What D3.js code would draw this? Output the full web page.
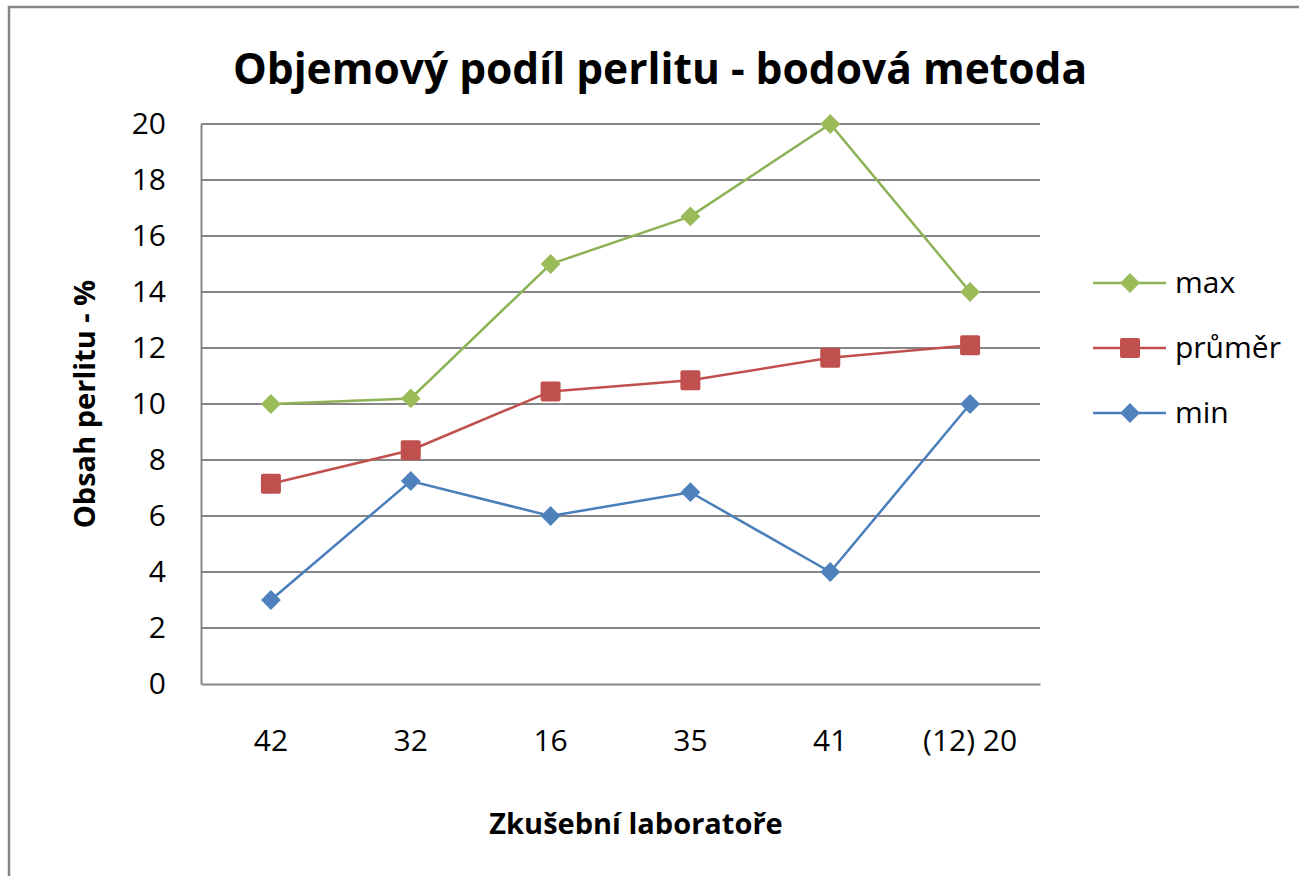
<!DOCTYPE html>
<html>
<head>
<meta charset="utf-8">
<script src="https://cdn.jsdelivr.net/npm/d3@7"></script>
<style>
    body { margin: 0; background: #fff; }
    text { font-family: "Open Sans", "Liberation Sans", sans-serif; fill: #000; }
</style>
</head>
<body>
<div id="chart"></div>
<script>
// data
const labs = ["42", "32", "16", "35", "41", "(12) 20"];
const maxVals = [10, 10.2, 15, 16.7, 20, 14];
const meanVals = [7.15, 8.35, 10.45, 10.85, 11.65, 12.1];
const minVals = [3, 7.25, 6, 6.85, 4, 10];
const yTicks = [0, 2, 4, 6, 8, 10, 12, 14, 16, 18, 20];

const series = [
    {name: "max", values: maxVals, color: "#9BBB59", stroke: "#8DB255", shape: "diamond"},
    {name: "průměr", values: meanVals, color: "#C0504D", stroke: "#C0504D", shape: "square"},
    {name: "min", values: minVals, color: "#4F81BD", stroke: "#4A7EBB", shape: "diamond"}
];

const W = 1299, H = 876;
const margin = {top: 124, left: 201, right: 259, bottom: 192};
const w = W - margin.left - margin.right;
const h = H - margin.top - margin.bottom;

const svg = d3.select("#chart").append("svg")
    .attr("width", W)
    .attr("height", H);

// outer frame
svg.append("rect")
    .attr("x", 9).attr("y", 7)
    .attr("width", W).attr("height", H)
    .attr("fill", "#fff")
    .attr("stroke", "#868686")
    .attr("stroke-width", 2.5);

svg.append("text")
    .attr("x", 660).attr("y", 84)
    .attr("text-anchor", "middle")
    .style("font-size", "42.5px")
    .style("font-weight", "bold")
    .text("Objemový podíl perlitu - bodová metoda");

const g = svg.append("g")
    .attr("transform", `translate(${margin.left},${margin.top})`);

let x = d3.scaleBand().domain(labs).range([0, w]);
let y = d3.scaleLinear().domain([0, 20]).range([h, 0]);

// grid
g.selectAll(".grid").data(yTicks.slice(1)).enter()
    .append("line")
    .attr("x1", 0).attr("x2", w)
    .attr("y1", d => y(d)).attr("y2", d => y(d))
    .attr("stroke", "#868686")
    .attr("stroke-width", 2);

// axes
let yAxis = g.append("g")
    .call(d3.axisLeft(y).tickValues(yTicks).tickSize(0).tickPadding(35));
yAxis.select(".domain").attr("stroke", "#868686").attr("stroke-width", 2);
yAxis.selectAll("text").style("font-size", "30px").attr("font-family", null);

let xAxis = g.append("g")
    .attr("transform", `translate(0,${h})`)
    .call(d3.axisBottom(x).tickSize(0).tickPadding(46));
xAxis.select(".domain").attr("stroke", "#868686").attr("stroke-width", 2);
xAxis.selectAll("text").style("font-size", "30px").attr("font-family", null);

// axis titles
svg.append("text")
    .attr("transform", `translate(95,${margin.top + h / 2}) rotate(-90)`)
    .attr("text-anchor", "middle")
    .style("font-size", "29px")
    .style("font-weight", "bold")
    .text("Obsah perlitu - %");

svg.append("text")
    .attr("x", 636).attr("y", 834)
    .attr("text-anchor", "middle")
    .style("font-size", "29px")
    .style("font-weight", "bold")
    .text("Zkušební laboratoře");

function marker(sel, s) {
    if (s.shape === "square") {
        sel.append("rect")
            .attr("x", -10).attr("y", -10)
            .attr("width", 20).attr("height", 20)
            .attr("rx", 2)
            .attr("fill", s.color);
    } else {
        sel.append("path")
            .attr("d", d3.symbol().type(d3.symbolDiamond2).size(250)())
            .attr("fill", s.color);
    }
}

let line = d3.line()
    .x((d, i) => x(labs[i]) + x.bandwidth() / 2)
    .y(d => y(d));

series.forEach(s => {
    g.append("path")
        .datum(s.values)
        .attr("d", line)
        .attr("fill", "none")
        .attr("stroke", s.stroke)
        .attr("stroke-width", 2.5);

    s.values.forEach((v, i) => {
        let m = g.append("g")
            .attr("transform", `translate(${x(labs[i]) + x.bandwidth() / 2},${y(v)})`);
        marker(m, s);
    });
});

// legend
let leg = svg.append("g").attr("transform", "translate(1093,283)");
series.forEach((s, i) => {
    let row = leg.append("g").attr("transform", `translate(0,${i * 65})`);
    row.append("line")
        .attr("x1", 0).attr("x2", 73)
        .attr("stroke", s.stroke)
        .attr("stroke-width", 2.5);
    let m = row.append("g").attr("transform", "translate(37,0)");
    marker(m, s);
    row.append("text")
        .attr("x", 82).attr("y", 10)
        .style("font-size", "30px")
        .text(s.name);
});
</script>
</body>
</html>
